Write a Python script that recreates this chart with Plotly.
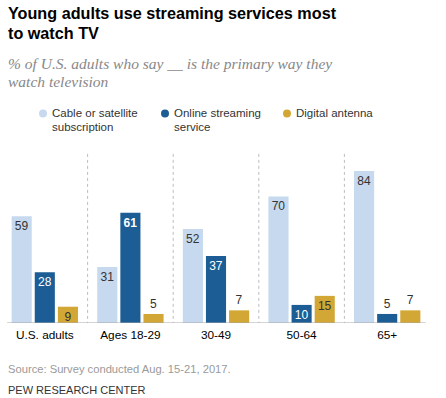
import plotly.graph_objects as go

categories = ["U.S. adults", "Ages 18-29", "30-49", "50-64", "65+"]
series_names = ["Cable or satellite subscription", "Online streaming service", "Digital antenna"]
legend_lines = [["Cable or satellite", "subscription"], ["Online streaming", "service"], ["Digital antenna"]]
cable = [59, 31, 52, 70, 84]
streaming = [28, 61, 37, 10, 5]
antenna = [9, 5, 7, 15, 7]

colors = ["#c6d9ee", "#1b5d94", "#d2a735"]
text_colors = ["#333333", "#ffffff", "#333333"]

W, H = 446, 398
UNIT = 85.6  # px per category
CAT0 = 44.8  # x of category 0 center
PLOT_R = 430
PLOT_TOP, PLOT_BOT = 152.6, 322.7
L = 0
R = W - PLOT_R
PW = W - L - R
PH = PLOT_BOT - PLOT_TOP
X_MIN = (L - CAT0) / UNIT
X_MAX = (PLOT_R - CAT0) / UNIT

def px(x):
    return (x - L) / PW

def py(y):
    return (PLOT_BOT - y) / PH

fig = go.Figure()
all_series = [cable, streaming, antenna]
for k, (name, vals) in enumerate(zip(series_names, all_series)):
    texts = []
    positions = []
    fonts_c = []
    for i, v in enumerate(vals):
        t = str(v)
        if k == 1 and v == max(vals):
            t = "<b>" + t + "</b>"
        texts.append(t)
        if v <= 7:
            positions.append("outside")
            fonts_c.append("#333333")
        else:
            positions.append("inside")
            fonts_c.append(text_colors[k])
    fig.add_trace(go.Bar(
        x=list(range(len(categories))), y=vals, name=name,
        marker=dict(color=colors[k], line=dict(width=0)),
        text=texts, textposition=positions, insidetextanchor="end", textangle=0,
        textfont=dict(size=12, color=fonts_c, family="Liberation Sans"),
        constraintext="none", cliponaxis=False, showlegend=False,
        hoverinfo="skip",
    ))

shapes = []
for i in range(len(categories) - 1):
    shapes.append(dict(type="line", xref="x", yref="y", x0=i + 0.5, x1=i + 0.5,
                       y0=-11, y1=94, line=dict(color="#bdbdbd", width=1, dash="dot"),
                       layer="below"))
shapes.append(dict(type="line", xref="x", yref="y", x0=-0.44, x1=4.45, y0=0, y1=0,
                   line=dict(color="#a8a8a8", width=1), layer="above"))

annotations = []
# Title
for j, line in enumerate(["Young adults use streaming services most", "to watch TV"]):
    annotations.append(dict(text="<b>" + line + "</b>", x=px(6), y=py(13 + j * 20),
                            xref="paper", yref="paper", xanchor="left", yanchor="middle",
                            showarrow=False,
                            font=dict(size=16.2, color="#000000", family="Liberation Sans")))
# Subtitle
for j, line in enumerate(["% of U.S. adults who say __ is the primary way they", "watch television"]):
    annotations.append(dict(text="<i>" + line + "</i>", x=px(6), y=py(63 + j * 18),
                            xref="paper", yref="paper", xanchor="left", yanchor="middle",
                            showarrow=False,
                            font=dict(size=15.5, color="#888888", family="Liberation Serif")))
# Legend
dot_x = [43, 165, 287]
for k, lines in enumerate(legend_lines):
    shapes.append(dict(type="circle", xref="paper", yref="paper",
                       x0=px(dot_x[k] - 4), x1=px(dot_x[k] + 4),
                       y0=py(113 + 4), y1=py(113 - 4),
                       fillcolor=colors[k], line=dict(width=0)))
    for j, line in enumerate(lines):
        annotations.append(dict(text=line, x=px(dot_x[k] + 7), y=py(113 + j * 14),
                                xref="paper", yref="paper", xanchor="left", yanchor="middle",
                                showarrow=False,
                                font=dict(size=11.5, color="#333333", family="Liberation Sans")))
# Source & credit
annotations.append(dict(text="Source: Survey conducted Aug. 15-21, 2017.", x=px(6), y=py(369),
                        xref="paper", yref="paper", xanchor="left", yanchor="middle",
                        showarrow=False,
                        font=dict(size=11.2, color="#9a9a9a", family="Liberation Sans")))
annotations.append(dict(text="PEW RESEARCH CENTER", x=px(6), y=py(390),
                        xref="paper", yref="paper", xanchor="left", yanchor="middle",
                        showarrow=False,
                        font=dict(size=11, color="#333333", family="Liberation Sans")))

fig.update_layout(
    width=W, height=H,
    margin=dict(l=L, r=R, t=PLOT_TOP, b=H - PLOT_BOT, pad=0),
    paper_bgcolor="white", plot_bgcolor="white",
    barmode="group", bargap=0.19, bargroupgap=0.13,
    shapes=shapes, annotations=annotations,
    xaxis=dict(range=[X_MIN, X_MAX], tickvals=list(range(len(categories))), ticktext=categories,
               showgrid=False, zeroline=False, showline=False, ticks="", ticklabelstandoff=3,
               tickfont=dict(size=11.8, color="#000000", family="Liberation Sans")),
    yaxis=dict(range=[0, 94], visible=False, showgrid=False, zeroline=False),
    showlegend=False,
    hovermode=False,
)

fig.write_html("out.html", config={"displayModeBar": False, "staticPlot": True},
               post_script="document.body.style.margin='0';document.body.style.overflow='hidden';")
